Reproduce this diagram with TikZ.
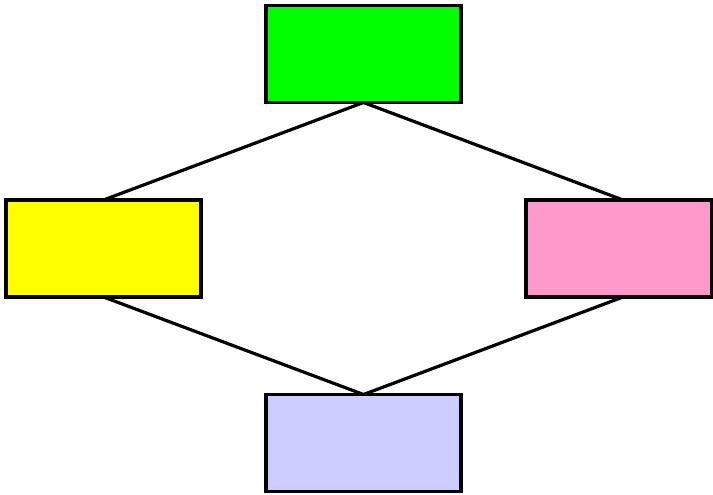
\documentclass[tikz,border=0pt]{standalone}
\usetikzlibrary{backgrounds}
\begin{document}
\begin{tikzpicture}[x=1pt,y=-1pt,
  boxnode/.style={draw=black,line width=3.2pt,minimum width=195pt,minimum height=97pt,inner sep=0pt,outer sep=0pt},
  link/.style={draw=black,line width=3.2pt}]
\useasboundingbox (0,0) rectangle (713,495);
\definecolor{cgreen}{HTML}{00FF00}
\definecolor{cyellow}{HTML}{FFFF00}
\definecolor{cpink}{HTML}{FF99CC}
\definecolor{clav}{HTML}{CCCCFF}
\node[boxnode,fill=cgreen] (top) at (363.5,54) {};
\node[boxnode,fill=cyellow] (left) at (103.5,248.5) {};
\node[boxnode,fill=cpink,minimum width=186pt] (right) at (619,248.5) {};
\node[boxnode,fill=clav] (bottom) at (363.5,443) {};
\begin{scope}[on background layer]
\fill[white] (0,0) rectangle (713,495);
\draw[link] (top.south) -- (left.north);
\draw[link] (top.south) -- ([xshift=4pt]right.north);
\draw[link] (left.south) -- (bottom.north);
\draw[link] ([xshift=4pt]right.south) -- (bottom.north);
\end{scope}
\end{tikzpicture}
\end{document}
